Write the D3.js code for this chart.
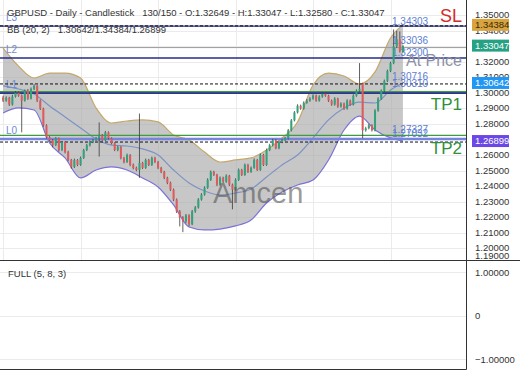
<!DOCTYPE html>
<html>
<head>
<meta charset="utf-8">
<script src="https://cdn.jsdelivr.net/npm/d3@7"></script>
<style>
  body { margin: 0; background: #fff; }
  svg { display: block; font-family: "Liberation Sans", Arial, sans-serif; }
</style>
</head>
<body>
<svg id="chart" width="520" height="390"></svg>
<script>
// daily candles, 130 of 150 shown
var opens = [
1.2970,1.2950,1.2969,1.2925,1.2976,1.3001,1.2982,1.2950,1.3014,1.2963,
1.3026,1.3046,1.2950,1.2899,1.2791,1.2714,1.2695,1.2663,1.2708,1.2632,
1.2683,1.2619,1.2568,1.2523,1.2568,1.2536,1.2581,1.2632,1.2663,1.2683,
1.2695,1.2708,1.2727,1.2695,1.2746,1.2708,1.2676,1.2632,1.2651,1.2581,
1.2555,1.2600,1.2536,1.2517,1.2504,1.2549,1.2517,1.2568,1.2536,1.2581,
1.2555,1.2517,1.2491,1.2453,1.2421,1.2377,1.2313,1.2237,1.2198,1.2173,
1.2211,1.2154,1.2237,1.2262,1.2313,1.2345,1.2389,1.2440,1.2491,1.2472,
1.2409,1.2453,1.2428,1.2466,1.2409,1.2377,1.2440,1.2504,1.2472,1.2536,
1.2491,1.2517,1.2568,1.2504,1.2600,1.2536,1.2632,1.2663,1.2695,1.2644,
1.2683,1.2695,1.2708,1.2759,1.2823,1.2874,1.2918,1.2899,1.2937,1.2950,
1.2963,1.2982,1.2950,1.2976,1.2995,1.2982,1.2950,1.2925,1.2963,1.2912,
1.2931,1.2899,1.2950,1.2925,1.2982,1.3014,1.3060,1.2759,1.2772,1.2791,
1.2759,1.2886,1.2963,1.3014,1.3077,1.3141,1.3192,1.3300,1.3345,1.32649];

var highs = [
1.2982,1.2978,1.2975,1.2988,1.3012,1.3010,1.2990,1.3022,1.3025,1.3035,
1.3056,1.3050,1.2958,1.2905,1.2798,1.2722,1.2703,1.2716,1.2713,1.2690,
1.2689,1.2627,1.2575,1.2577,1.2574,1.2590,1.2640,1.2672,1.2694,1.2703,
1.2717,1.2810,1.2735,1.2755,1.2752,1.2714,1.2683,1.2660,1.2657,1.2588,
1.2609,1.2606,1.2545,1.2525,1.2867,1.2556,1.2577,1.2575,1.2590,1.2589,
1.2562,1.2524,1.2498,1.2460,1.2428,1.2384,1.2320,1.2245,1.2206,1.2220,
1.2218,1.2246,1.2271,1.2322,1.2354,1.2398,1.2450,1.2500,1.2498,1.2479,
1.2462,1.2460,1.2475,1.2472,1.2416,1.2450,1.2513,1.2511,1.2545,1.2543,
1.2526,1.2578,1.2575,1.2609,1.2607,1.2641,1.2672,1.2704,1.2702,1.2692,
1.2703,1.2716,1.2768,1.2832,1.2883,1.2927,1.2925,1.2946,1.2960,1.2972,
1.2991,1.2989,1.2985,1.3004,1.3002,1.2988,1.2957,1.2972,1.2969,1.2940,
1.2938,1.2959,1.2957,1.2991,1.3023,1.3192,1.3066,1.2782,1.2800,1.2798,
1.2895,1.2972,1.3023,1.3086,1.3150,1.3201,1.3409,1.3400,1.3396,1.33047];

var lows = [
1.2941,1.2943,1.2916,1.2918,1.2970,1.2975,1.2746,1.2944,1.2955,1.2958,
1.3018,1.2941,1.2890,1.2782,1.2706,1.2686,1.2650,1.2657,1.2622,1.2625,
1.2610,1.2560,1.2512,1.2516,1.2528,1.2530,1.2575,1.2625,1.2655,1.2676,
1.2688,1.2590,1.2688,1.2690,1.2700,1.2668,1.2625,1.2624,1.2572,1.2546,
1.2549,1.2528,1.2508,1.2495,1.2453,1.2510,1.2511,1.2529,1.2530,1.2548,
1.2509,1.2483,1.2444,1.2412,1.2368,1.2303,1.2226,1.2140,1.2103,1.2160,
1.2140,1.2148,1.2228,1.2255,1.2306,1.2338,1.2382,1.2433,1.2465,1.2400,
1.2402,1.2420,1.2421,1.2400,1.2250,1.2370,1.2433,1.2465,1.2466,1.2484,
1.2485,1.2511,1.2497,1.2498,1.2529,1.2530,1.2625,1.2656,1.2637,1.2637,
1.2676,1.2689,1.2701,1.2752,1.2816,1.2867,1.2891,1.2892,1.2930,1.2943,
1.2956,1.2943,1.2944,1.2969,1.2975,1.2942,1.2917,1.2918,1.2904,1.2905,
1.2891,1.2892,1.2917,1.2919,1.2975,1.3007,1.2708,1.2750,1.2765,1.2751,
1.2752,1.2879,1.2956,1.3007,1.3070,1.3134,1.3185,1.3290,1.3260,1.32580];

var closes = [
1.2950,1.2969,1.2925,1.2976,1.3001,1.2982,1.2950,1.3014,1.2963,1.3026,
1.3046,1.2950,1.2899,1.2791,1.2714,1.2695,1.2663,1.2708,1.2632,1.2683,
1.2619,1.2568,1.2523,1.2568,1.2536,1.2581,1.2632,1.2663,1.2683,1.2695,
1.2708,1.2727,1.2695,1.2746,1.2708,1.2676,1.2632,1.2651,1.2581,1.2555,
1.2600,1.2536,1.2517,1.2504,1.2549,1.2517,1.2568,1.2536,1.2581,1.2555,
1.2517,1.2491,1.2453,1.2421,1.2377,1.2313,1.2237,1.2198,1.2173,1.2211,
1.2154,1.2237,1.2262,1.2313,1.2345,1.2389,1.2440,1.2491,1.2472,1.2409,
1.2453,1.2428,1.2466,1.2409,1.2377,1.2440,1.2504,1.2472,1.2536,1.2491,
1.2517,1.2568,1.2504,1.2600,1.2536,1.2632,1.2663,1.2695,1.2644,1.2683,
1.2695,1.2708,1.2759,1.2823,1.2874,1.2918,1.2899,1.2937,1.2950,1.2963,
1.2982,1.2950,1.2976,1.2995,1.2982,1.2950,1.2925,1.2963,1.2912,1.2931,
1.2899,1.2950,1.2925,1.2982,1.3014,1.3026,1.2759,1.2772,1.2791,1.2759,
1.2886,1.2963,1.3014,1.3077,1.3141,1.3192,1.3300,1.3345,1.3269,1.33047];

// bollinger bands (20, 2), read every 5 bars
var bbIdx = [0,5,10,15,20,25,30,35,40,45,50,55,60,65,70,75,80,85,90,95,100,105,110,115,120,125,129];
var bbUpper = [1.3289,1.3173,1.3096,1.3128,1.3128,1.3096,1.2903,1.2806,1.2819,1.2826,1.2813,1.2729,1.2697,1.2619,1.2555,1.2568,1.2581,1.2632,1.2710,1.2813,1.3051,1.3128,1.3109,1.3057,1.3135,1.3354,1.34384];
var bbMid = [1.3045,1.3025,1.2993,1.2916,1.2845,1.2774,1.2703,1.2664,1.2658,1.2639,1.2600,1.2503,1.2420,1.2368,1.2342,1.2355,1.2381,1.2458,1.2536,1.2600,1.2710,1.2826,1.2903,1.2941,1.2935,1.3019,1.30642];
var bbLower = [1.2871,1.2903,1.2890,1.2677,1.2581,1.2452,1.2503,1.2523,1.2503,1.2452,1.2394,1.2278,1.2136,1.2117,1.2123,1.2143,1.2181,1.2291,1.2362,1.2407,1.2439,1.2568,1.2761,1.2851,1.2761,1.2710,1.26899];

var priceTicks = [1.35,1.34,1.33,1.32,1.31,1.30,1.29,1.28,1.27,1.26,1.25,1.24,1.23,1.22,1.21,1.20,1.19];
var oscTicks = [1, 0, -1];
var gridBars = [0, 25, 50, 75, 100, 125];

// levels drawn on the chart
var levelPrices = [1.3430, 1.3292, 1.3225, 1.3000, 1.2703];
var levelNames = ["L3", "", "L2", "L1", "L0"];
var tpPrices = [1.3008, 1.2726];
var levelTags = ["1.34303","1.33036","1.32300","1.30716","1.30310","1.27327","1.27032"];

var markers = [
  {v: 1.34384, bg: "#d8a43f", fg: "#3b2a05"},
  {v: 1.33047, bg: "#27a184", fg: "#ffffff"},
  {v: 1.30642, bg: "#2196f3", fg: "#ffffff"},
  {v: 1.26899, bg: "#6b48e6", fg: "#ffffff"}
];

var W = 520, H = 390, plotR = 466, mainB = 260, oscB = 369;
var svg = d3.select("#chart");

var x = d3.scaleBand().domain(d3.range(150)).range([1, 467]).padding(0.35);
function xc(i) { return x(i) + x.bandwidth() / 2; }
var y = d3.scaleLinear().domain([1.26, 1.35]).range([155, 15.3]);
var yo = d3.scaleLinear().domain([-1, 1]).range([359, 272]);

svg.append("defs").append("clipPath").attr("id", "mainClip")
  .append("rect").attr("x", 0).attr("y", 0).attr("width", plotR).attr("height", mainB);

var main = svg.append("g").attr("clip-path", "url(#mainClip)");

// grid
main.selectAll(".hg").data(priceTicks).enter().append("line")
  .attr("x1", 0).attr("x2", plotR)
  .attr("y1", function(d){ return Math.round(y(d)) + 0.5; })
  .attr("y2", function(d){ return Math.round(y(d)) + 0.5; })
  .attr("stroke", "#ebebeb");
main.selectAll(".vg").data(gridBars).enter().append("line")
  .attr("x1", function(d){ return Math.round(xc(d)) + 0.5; })
  .attr("x2", function(d){ return Math.round(xc(d)) + 0.5; })
  .attr("y1", 0).attr("y2", mainB)
  .attr("stroke", "#ebebeb");

// bollinger band
var bb = bbIdx.map(function(d, k){ return {i: d, u: bbUpper[k], m: bbMid[k], l: bbLower[k]}; });
main.append("path").datum(bb)
  .attr("d", d3.area().curve(d3.curveMonotoneX)
    .x(function(d){ return xc(d.i); })
    .y0(function(d){ return y(d.l); })
    .y1(function(d){ return y(d.u); }))
  .attr("fill", "#a9a9a9").attr("fill-opacity", 0.65);

function bandLine(key, color) {
  main.append("path").datum(bb)
    .attr("d", d3.line().curve(d3.curveMonotoneX)
      .x(function(d){ return xc(d.i); })
      .y(function(d){ return y(d[key]); }))
    .attr("fill", "none").attr("stroke", color).attr("stroke-width", 1.2);
}
bandLine("u", "#c4a86a");
bandLine("m", "#7d93c4");
bandLine("l", "#7a72d8");

// level lines
var levelColors = ["#262b88", "#9b9b9b", "#262b88", "#2f3597", "#7584dc"];
var levelWidths = [1.2, 1, 1.3, 2, 2.5];
levelPrices.forEach(function(p, k) {
  main.append("line").attr("x1", 0).attr("x2", plotR)
    .attr("y1", y(p)).attr("y2", y(p))
    .attr("stroke", levelColors[k]).attr("stroke-width", levelWidths[k]);
  if (levelNames[k]) {
    main.append("text").attr("x", 6).attr("y", y(p) - 8.5).attr("dy", "0.35em")
      .attr("font-size", 10).attr("fill", "#6d8ad6").text(levelNames[k]);
  }
});
tpPrices.forEach(function(p) {
  main.append("line").attr("x1", 0).attr("x2", plotR)
    .attr("y1", y(p)).attr("y2", y(p))
    .attr("stroke", "#3f9d3f").attr("stroke-width", 1.2);
});
// current band values as dashed price lines
[bbUpper[bbUpper.length-1], bbMid[bbMid.length-1], bbLower[bbLower.length-1]].forEach(function(p) {
  main.append("line").attr("x1", 0).attr("x2", plotR)
    .attr("y1", y(p) + 1).attr("y2", y(p) + 1)
    .attr("stroke", "#111").attr("stroke-width", 1).attr("stroke-dasharray", "3,2");
});

main.selectAll(".tag").data(levelTags).enter().append("text")
  .attr("x", 392).attr("y", function(d){ return y(+d) - 5; }).attr("dy", "0.35em")
  .attr("font-size", 10).attr("fill", "#5c7ed2").text(function(d){ return d; });

// candles
var candles = d3.range(closes.length).map(function(i){
  return {i: i, o: opens[i], h: highs[i], l: lows[i], c: closes[i]};
});
var cg = main.selectAll(".candle").data(candles).enter().append("g");
cg.append("line")
  .attr("x1", function(d){ return xc(d.i); }).attr("x2", function(d){ return xc(d.i); })
  .attr("y1", function(d){ return y(d.h); }).attr("y2", function(d){ return y(d.l); })
  .attr("stroke", "#3a3a3a").attr("stroke-width", 0.8);
cg.append("rect")
  .attr("x", function(d){ return x(d.i); })
  .attr("width", x.bandwidth())
  .attr("y", function(d){ return y(Math.max(d.o, d.c)); })
  .attr("height", function(d){ return Math.max(1, Math.abs(y(d.o) - y(d.c))); })
  .attr("fill", function(d){ return d.c >= d.o ? "#2fa37c" : "#e05a5c"; });

// annotations
main.append("text").attr("x", 462).attr("y", 22).attr("text-anchor", "end")
  .attr("font-size", 18).attr("fill", "#d42b2b").text("SL");
main.append("text").attr("x", 462).attr("y", 66).attr("text-anchor", "end")
  .attr("font-size", 16).attr("fill", "#8d91a6").text("At Price");
main.append("text").attr("x", 462).attr("y", 110).attr("text-anchor", "end")
  .attr("font-size", 17).attr("fill", "#2f8f3a").text("TP1");
main.append("text").attr("x", 462).attr("y", 154).attr("text-anchor", "end")
  .attr("font-size", 17).attr("fill", "#2f8f3a").text("TP2");
main.append("text").attr("x", 213).attr("y", 203)
  .attr("font-size", 29).attr("fill", "#555").attr("fill-opacity", 0.6).text("Amcen");

// headers
svg.append("text").attr("x", 7).attr("y", 16).attr("font-size", 9.5).attr("fill", "#333")
  .style("white-space", "pre")
  .text("GBPUSD - Daily - Candlestick   130/150 - O:1.32649 - H:1.33047 - L:1.32580 - C:1.33047");
svg.append("text").attr("x", 7).attr("y", 33).attr("font-size", 9.5).attr("fill", "#333")
  .style("white-space", "pre")
  .text("BB (20, 2)   1.30642/1.34384/1.26899");

// price axis
var yAxis = d3.axisRight(y).tickValues(priceTicks).tickSize(0).tickPadding(9)
  .tickFormat(d3.format(".5f"));
var ya = svg.append("g").attr("transform", "translate(" + plotR + ",0)").call(yAxis);
ya.select(".domain").remove();
ya.selectAll(".tick").attr("transform", function(d){ return "translate(0," + Math.min(y(d), 256) + ")"; });
ya.selectAll("text").attr("font-size", 9.5).attr("fill", "#333")
  .attr("font-family", "Liberation Sans, Arial, sans-serif");

// value markers on the price axis
var mk = svg.selectAll(".mk").data(markers).enter().append("g")
  .attr("transform", function(d){ return "translate(472," + y(d.v) + ")"; });
mk.append("rect").attr("x", 0).attr("y", -6).attr("width", 37).attr("height", 12)
  .attr("fill", function(d){ return d.bg; });
mk.append("text").attr("x", 3).attr("dy", "0.35em").attr("font-size", 9.5)
  .attr("fill", function(d){ return d.fg; }).text(function(d){ return d.v.toFixed(5); });

// oscillator panel
svg.selectAll(".og").data(oscTicks).enter().append("line")
  .attr("x1", 0).attr("x2", plotR)
  .attr("y1", function(d){ return Math.round(yo(d)) + 0.5; })
  .attr("y2", function(d){ return Math.round(yo(d)) + 0.5; })
  .attr("stroke", "#ebebeb");
var oAxis = d3.axisRight(yo).tickValues(oscTicks).tickSize(0).tickPadding(9)
  .tickFormat(function(d){ return d === 0 ? "0" : d3.format(".5f")(d); });
var oa = svg.append("g").attr("transform", "translate(" + plotR + ",0)").call(oAxis);
oa.select(".domain").remove();
oa.selectAll("text").attr("font-size", 9.5).attr("fill", "#333")
  .attr("font-family", "Liberation Sans, Arial, sans-serif");
svg.append("text").attr("x", 8).attr("y", 277).attr("font-size", 9.5).attr("fill", "#333")
  .text("FULL (5, 8, 3)");

// frame
svg.append("line").attr("x1", 0).attr("x2", W).attr("y1", mainB + 0.5).attr("y2", mainB + 0.5).attr("stroke", "#333");
svg.append("line").attr("x1", plotR + 0.5).attr("x2", plotR + 0.5).attr("y1", 0).attr("y2", oscB + 0.5).attr("stroke", "#333");
svg.append("line").attr("x1", 0).attr("x2", plotR + 0.5).attr("y1", oscB + 0.5).attr("y2", oscB + 0.5).attr("stroke", "#333");
</script>
</body>
</html>
